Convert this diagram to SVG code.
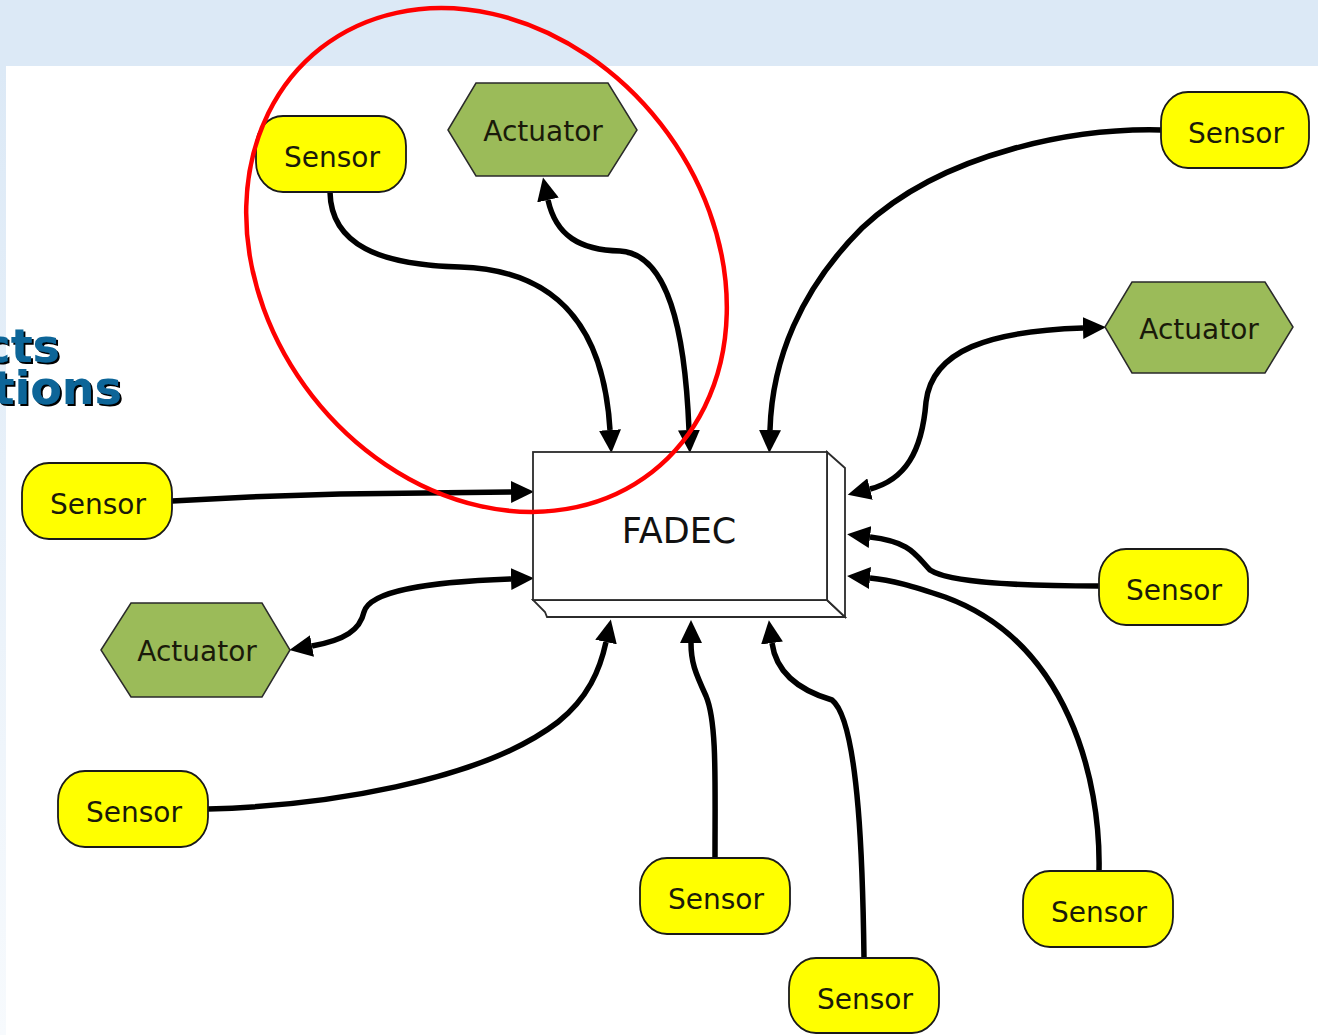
<svg xmlns="http://www.w3.org/2000/svg" width="1318" height="1035" viewBox="0 0 1318 1035">
  <defs>
    <linearGradient id="sideBand" x1="0" y1="0" x2="0" y2="1">
      <stop offset="0" stop-color="#dce9f6"/>
      <stop offset="1" stop-color="#f7fafd"/>
    </linearGradient>
    <filter id="hardShadow" x="-10%" y="-10%" width="130%" height="130%">
      <feDropShadow dx="2" dy="2" stdDeviation="0.4" flood-color="#000" flood-opacity="1"/>
    </filter>
    <marker id="arrow" markerUnits="userSpaceOnUse" markerWidth="24" markerHeight="22" refX="0" refY="11" orient="auto-start-reverse" viewBox="0 0 24 22">
      <path d="M0,0 L23,11 L0,22 Z" fill="#000"/>
    </marker>
    <style>
      .sensor rect { fill: #ffff00; stroke: #1a1a1a; stroke-width: 1.8; }
      .actuator polygon { fill: #9bbb59; stroke: #2a2a2a; stroke-width: 1.5; }
      .label { font-family: "DejaVu Sans", Verdana, sans-serif; font-size: 28px; fill: #1a1a0a; text-anchor: middle; }
      .wire { fill: none; stroke: #000; stroke-width: 5.5; stroke-linecap: butt; stroke-linejoin: round; }
      .to { marker-end: url(#arrow); }
      .both { marker-start: url(#arrow); marker-end: url(#arrow); }
      .box { fill: #fff; stroke: #2b2b2b; stroke-width: 1.8; stroke-linejoin: miter; }
      .title { font-family: "DejaVu Sans", Verdana, sans-serif; font-weight: bold; font-size: 46px; text-anchor: end; fill: #0c6598; filter: url(#hardShadow); }
    </style>
  </defs>

  <!-- page background -->
  <rect x="0" y="0" width="1318" height="1035" fill="#ffffff"/>
  <rect x="0" y="0" width="1318" height="66" fill="#dce9f6"/>
  <rect x="0" y="66" width="6" height="969" fill="url(#sideBand)"/>

  <!-- slide heading, running off the left edge -->
  <g id="heading">
    <text class="title" x="60" y="362">cts</text>
    <text class="title" x="122" y="404">tions</text>
  </g>

  <!-- connectors -->
  <g id="connectors">
    <path class="wire to" d="M330,192 C331,245 380,265 460,267 C560,270 604,330 610,430"/>
    <path class="wire both" d="M548,200 C556,236 580,250 620,251 C668,254 685,330 689,430"/>
    <path class="wire to" d="M1161,130 C1080,128 945,150 862,228 C800,290 772,360 770,430"/>
    <path class="wire both" d="M870,489 C905,480 922,452 926,402 C932,350 990,331 1083,328"/>
    <path class="wire to" d="M1099,586 C1020,586 950,583 930,570 C916,556 912,542 870,537"/>
    <path class="wire to" d="M1099,871 C1101,780 1068,642 945,597 C912,586 892,580 870,578"/>
    <path class="wire to" d="M864,958 C863,880 860,722 832,700 C798,690 776,672 772,643"/>
    <path class="wire to" d="M715,858 C715,780 717,722 706,696 C695,672 691,662 691,643"/>
    <path class="wire to" d="M208,809 C320,806 480,782 558,722 C588,698 600,670 606,642"/>
    <path class="wire to" d="M172,501 L250,497 L340,494 L511,492"/>
    <path class="wire both" d="M312,646 C345,640 360,630 364,612 C370,590 430,582 511,579"/>
  </g>

  <!-- controller -->
  <g id="fadec">
    <polygon class="box" points="533,600 827,600 845,617 547,617 545,612"/>
    <polygon class="box" points="827,452 845,468 845,617 827,600"/>
    <rect class="box" x="533" y="452" width="294" height="148"/>
    <text x="679" y="543" font-family="'DejaVu Sans', Verdana, sans-serif" font-size="35" fill="#111" text-anchor="middle">FADEC</text>
  </g>

  <!-- sensors -->
  <g id="sensor-1" class="sensor"><rect x="256" y="116" width="150" height="76" rx="27" ry="30"/><text class="label" x="332" y="167">Sensor</text></g>
  <g id="sensor-2" class="sensor"><rect x="1161" y="92" width="148" height="76" rx="27" ry="30"/><text class="label" x="1236" y="143">Sensor</text></g>
  <g id="sensor-3" class="sensor"><rect x="22" y="463" width="150" height="76" rx="27" ry="30"/><text class="label" x="98" y="514">Sensor</text></g>
  <g id="sensor-4" class="sensor"><rect x="1099" y="549" width="149" height="76" rx="27" ry="30"/><text class="label" x="1174" y="600">Sensor</text></g>
  <g id="sensor-5" class="sensor"><rect x="58" y="771" width="150" height="76" rx="27" ry="30"/><text class="label" x="134" y="822">Sensor</text></g>
  <g id="sensor-6" class="sensor"><rect x="640" y="858" width="150" height="76" rx="27" ry="30"/><text class="label" x="716" y="909">Sensor</text></g>
  <g id="sensor-7" class="sensor"><rect x="789" y="958" width="150" height="75" rx="27" ry="30"/><text class="label" x="865" y="1009">Sensor</text></g>
  <g id="sensor-8" class="sensor"><rect x="1023" y="871" width="150" height="76" rx="27" ry="30"/><text class="label" x="1099" y="922">Sensor</text></g>

  <!-- actuators -->
  <g id="actuator-1" class="actuator"><polygon points="448,130 476,83 608,83 637,130 608,176 476,176"/><text class="label" x="543" y="141">Actuator</text></g>
  <g id="actuator-2" class="actuator"><polygon points="1105,327 1132,282 1265,282 1293,327 1265,373 1132,373"/><text class="label" x="1199" y="339">Actuator</text></g>
  <g id="actuator-3" class="actuator"><polygon points="101,650 131,603 262,603 290,650 262,697 131,697"/><text class="label" x="197" y="661">Actuator</text></g>

  <!-- highlight ring -->
  <g id="highlight">
    <ellipse cx="486.5" cy="260" rx="269" ry="221" transform="rotate(52 486.5 260)" fill="none" stroke="#ff0000" stroke-width="4.5"/>
  </g>
</svg>
